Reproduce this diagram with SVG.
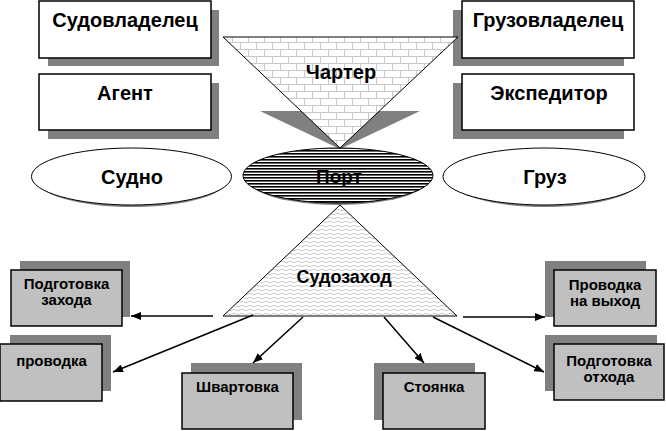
<svg xmlns="http://www.w3.org/2000/svg" width="666" height="431" viewBox="0 0 666 431">
<defs>
<style>
.top{fill:#fff;stroke:#000;stroke-width:1.5}
.sh{fill:#808080}
.bot{fill:#c0c0c0;stroke:#000;stroke-width:1.5}
.t{font-family:"Liberation Sans",Arial,sans-serif;font-weight:bold;text-anchor:middle;fill:#000}
.big{font-size:20px}
.sm{font-size:15px}
.ell{fill:#fff;stroke:#000;stroke-width:1}
.con{stroke:#000;stroke-width:1.5;fill:none;marker-end:url(#ah)}
</style>
<pattern id="brick" width="16" height="14" patternUnits="userSpaceOnUse">
<rect width="16" height="14" fill="#fff"/>
<path d="M0,0.5H16M0,7.5H16M0.5,0V7M8.5,7V14" stroke="#c8c8c8" stroke-width="1" fill="none"/>
</pattern>
<pattern id="wave" width="8" height="4" patternUnits="userSpaceOnUse">
<rect width="8" height="4" fill="#fff"/>
<path d="M0,2 Q2,0.6 4,2 T8,2" stroke="#bdbdbd" stroke-width="0.8" fill="none"/>
</pattern>
<pattern id="stripe" width="6" height="3" patternUnits="userSpaceOnUse">
<rect width="6" height="3" fill="#fff"/>
<rect width="6" height="1.6" fill="#000"/>
</pattern>
<marker id="ah" markerWidth="10" markerHeight="8" refX="10" refY="4" orient="auto" markerUnits="userSpaceOnUse">
<path d="M0,0L10,4L0,8z" fill="#000"/>
</marker>
</defs>
<rect width="666" height="431" fill="#fff"/>

<g id="sudovladelec">
<rect class="sh" x="48" y="10" width="171" height="56"/>
<rect class="top" x="39" y="1" width="172" height="57"/>
<text class="t big" x="125" y="27">Судовладелец</text>
</g>
<g id="agent">
<rect class="sh" x="48" y="83" width="171" height="56"/>
<rect class="top" x="39" y="74" width="172" height="56"/>
<text class="t big" x="125" y="100">Агент</text>
</g>
<g id="gruzovladelec">
<rect class="sh" x="453" y="10" width="171" height="56"/>
<rect class="top" x="462" y="1" width="172" height="57"/>
<text class="t big" x="548" y="27">Грузовладелец</text>
</g>
<g id="ekspeditor">
<rect class="sh" x="453" y="83" width="171" height="56"/>
<rect class="top" x="462" y="74" width="172" height="56"/>
<text class="t big" x="549" y="100">Экспедитор</text>
</g>

<g id="charter">
<polygon class="sh" points="260,111 420,111 340,149"/>
<polygon points="223,37 458,37 340,148" fill="url(#brick)" stroke="#000" stroke-width="1"/>
<text class="t big" x="341" y="79">Чартер</text>
</g>

<g id="sudno">
<ellipse class="sh" cx="132" cy="180" rx="95" ry="27"/>
<ellipse class="ell" cx="131.5" cy="176.5" rx="100" ry="28.5"/>
<text class="t big" x="132" y="184">Судно</text>
</g>
<g id="port">
<ellipse class="sh" cx="338" cy="179" rx="90" ry="26"/>
<ellipse cx="338" cy="175.5" rx="95" ry="27.5" fill="url(#stripe)" stroke="#000" stroke-width="1"/>
<text class="t" font-size="19" x="339" y="183">Порт</text>
</g>
<g id="gruz">
<ellipse class="sh" cx="545" cy="180" rx="95" ry="27"/>
<ellipse class="ell" cx="544" cy="176.5" rx="101" ry="28.5"/>
<text class="t big" x="545" y="184">Груз</text>
</g>

<g id="sudozakhod">
<polygon points="340,205 457,316 223,316" fill="url(#wave)" stroke="#000" stroke-width="1"/>
<text class="t" font-size="18" x="344" y="283">Судозаход</text>
</g>

<g id="podgotovka-zakhoda">
<rect class="sh" x="20" y="261" width="110" height="56"/>
<rect class="bot" x="11" y="270" width="111" height="56"/>
<text class="t sm" x="66.5" y="289">Подготовка</text>
<text class="t sm" x="66.5" y="305">захода</text>
</g>
<g id="provodka">
<rect class="sh" x="10" y="335" width="101" height="56"/>
<rect class="bot" x="0" y="344" width="102" height="57"/>
<text class="t sm" x="51.5" y="366">проводка</text>
</g>
<g id="shvartovka">
<rect class="sh" x="191" y="363" width="111" height="57"/>
<rect class="bot" x="182" y="373" width="111" height="56"/>
<text class="t sm" x="237.5" y="392">Швартовка</text>
</g>
<g id="stoyanka">
<rect class="sh" x="374" y="363" width="101" height="57"/>
<rect class="bot" x="383" y="373" width="102" height="56"/>
<text class="t sm" x="434" y="392">Стоянка</text>
</g>
<g id="provodka-na-vykhod">
<rect class="sh" x="545" y="261" width="101" height="56"/>
<rect class="bot" x="554" y="270" width="102" height="56"/>
<text class="t sm" x="605" y="290">Проводка</text>
<text class="t sm" x="605" y="306">на выход</text>
</g>
<g id="podgotovka-otkhoda">
<rect class="sh" x="545" y="335" width="112" height="56"/>
<rect class="bot" x="554" y="344" width="110" height="56"/>
<text class="t sm" x="609" y="366">Подготовка</text>
<text class="t sm" x="609" y="382">отхода</text>
</g>

<g id="connectors">
<line class="con" x1="213" y1="316" x2="131" y2="316"/>
<line class="con" x1="253" y1="315" x2="113" y2="372"/>
<line class="con" x1="303" y1="317" x2="253" y2="363"/>
<line class="con" x1="384" y1="317" x2="424" y2="363"/>
<line class="con" x1="433" y1="317" x2="544" y2="372"/>
<line class="con" x1="463" y1="317" x2="545" y2="317"/>
</g>
</svg>
